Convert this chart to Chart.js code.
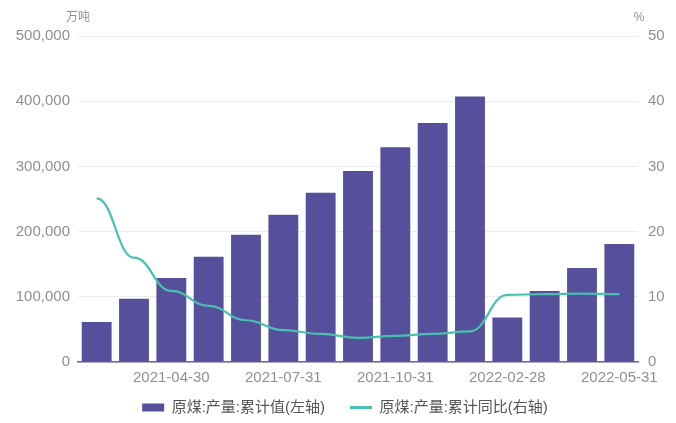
<!DOCTYPE html>
<html>
<head>
<meta charset="utf-8">
<script src="https://cdn.jsdelivr.net/npm/chart.js@4"></script>
<style>
  body { margin: 0; background: #fff; }
  #wrap { width: 676px; height: 423px; position: relative; }
</style>
</head>
<body>
<div id="wrap"><canvas id="coalChart"></canvas></div>
<script>
// Chart data

const dates = [
    '2021-02-28', '2021-03-31', '2021-04-30', '2021-05-31', '2021-06-30',
    '2021-07-31', '2021-08-31', '2021-09-30', '2021-10-31', '2021-11-30',
    '2021-12-31', '2022-02-28', '2022-03-31', '2022-04-30', '2022-05-31',
];

const outputTotal = [61500, 97000, 129000, 161500, 195000, 226000, 259500, 292800, 329200, 366600, 407200, 68200, 108800, 144000, 181000];

const outputYoy = [25.1, 16.0, 10.9, 8.6, 6.4, 4.9, 4.3, 3.7, 4.0, 4.3, 4.7, 10.3, 10.4, 10.5, 10.4];

const leftTicks = [0, 100000, 200000, 300000, 400000, 500000];
const rightTicks = [0, 10, 20, 30, 40, 50];

const barColor = '#554f9c';
const lineColor = '#48c1b0';
const tickColor = '#8f8f8f';
const fontFamily = '"Liberation Sans", "Noto Sans CJK SC", sans-serif';

// flat tangents at every point, like the source chart's smoothing
const flatCurve = {
  id: 'flatCurve',
  beforeDatasetDraw(chart, args) {
    const meta = args.meta;
    if (meta.type !== 'line') return;
    const pts = meta.data;
    const k = 0.45;
    for (let i = 0; i < pts.length; i++) {
      const p = pts[i];
      const prev = pts[i - 1];
      const next = pts[i + 1];
      p.cp1x = prev ? p.x - (p.x - prev.x) * k : p.x;
      p.cp1y = p.y;
      p.cp2x = next ? p.x + (next.x - p.x) * k : p.x;
      p.cp2y = p.y;
    }
    meta.dataset._pointsUpdated = true;
  }
};

// x axis box is kept short in layout so the legend sits close;
// give it its full height back so the tick labels are not clipped
const xLabelRoom = {
  id: 'xLabelRoom',
  afterLayout(chart) {
    const x = chart.scales.x;
    x.bottom = x.top + 30;
    x.height = 30;
  }
};

// unit labels above both y axes
const axisUnits = {
  id: 'axisUnits',
  afterDraw(chart) {
    const ctx = chart.ctx;
    const area = chart.chartArea;
    ctx.save();
    ctx.font = '12px ' + fontFamily;
    ctx.fillStyle = tickColor;
    ctx.textAlign = 'center';
    ctx.textBaseline = 'middle';
    ctx.fillText('万吨', area.left, 18);
    ctx.fillText('%', area.right + 1, 18);
    ctx.restore();
  }
};

const coalChart = new Chart(document.getElementById('coalChart'), {
    data: {
        labels: dates,
        datasets: [
            {
              type: 'bar',
              label: '原煤:产量:累计值(左轴)',
              data: outputTotal,
              backgroundColor: barColor,
              borderWidth: 0,
              categoryPercentage: 1,
              barPercentage: 0.8,
              yAxisID: 'y',
              order: 2,
            },
            {
              type: 'line',
              label: '原煤:产量:累计同比(右轴)',
              data: outputYoy,
              borderColor: lineColor,
              backgroundColor: lineColor,
              borderWidth: 2.2,
              pointRadius: 0,
              tension: 0.4,
              yAxisID: 'y1',
              order: 1,
            },
        ],
    },

    options: {
      responsive: true,
      maintainAspectRatio: false,
      animation: false,
      layout: { padding: { top: 36, left: 14, right: 0, bottom: -2 } },
      scales: {
        x: {
          offset: true,
          grid: { display: false, drawTicks: false },
          border: { display: true, color: '#6764a3', width: 1.5 },
          afterFit: scale => { scale.height = 13; },
          ticks: {
            autoSkip: false,
            maxRotation: 0,
            padding: 7,
            color: tickColor,
            font: { family: fontFamily, size: 15 },
            callback: (val, index) => index % 3 === 2 ? dates[index] : '',
          },
        },
        y: {
          position: 'left',
          min: 0,
          max: 500000,
          afterBuildTicks: scale => { scale.ticks = leftTicks.map(v => ({ value: v })); },
          afterFit: scale => { scale.width = 64; },
          grid: { color: '#ececec', drawTicks: false },
          border: { display: false },
          ticks: {
            padding: 8,
            color: tickColor,
            font: { family: fontFamily, size: 15 },
            callback: v => v.toLocaleString('en-US'),
          },
        },
        y1: {
          position: 'right',
          min: 0,
          max: 50,
          afterBuildTicks: scale => { scale.ticks = rightTicks.map(v => ({ value: v })); },
          afterFit: scale => { scale.width = 38; },
          grid: { display: false, drawTicks: false },
          border: { display: false },
          ticks: {
            padding: 10,
            color: tickColor,
            font: { family: fontFamily, size: 15 },
          },
        },
      },
      plugins: {
        tooltip: { enabled: false },
        legend: {
          position: 'bottom',
          labels: {
            usePointStyle: true,
            pointStyleWidth: 22,
            boxHeight: 8,
            padding: 25,
            color: '#555',
            font: { family: fontFamily, size: 15 },
            sort: (a, b) => a.datasetIndex - b.datasetIndex,
            generateLabels: chart => {
              const items = Chart.defaults.plugins.legend.labels.generateLabels(chart);
              items.forEach(item => {
                if (item.datasetIndex === 0) {
                  item.pointStyle = 'rect';
                  item.lineWidth = 0;
                  item.fillStyle = barColor;
                } else {
                  item.pointStyle = 'line';
                  item.lineWidth = 3;
                  item.strokeStyle = lineColor;
                }
              });
              return items;
            },
          },
        },
      },
    },
    plugins: [flatCurve, xLabelRoom, axisUnits],
});
</script>
</body>
</html>
